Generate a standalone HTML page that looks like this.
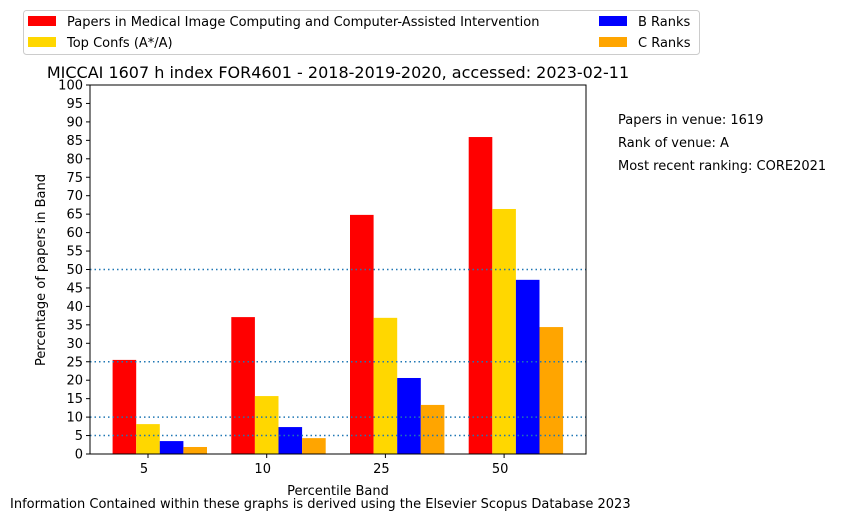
<!DOCTYPE html>
<html><head><meta charset="utf-8"><style>
body{margin:0;background:#fff;}
svg{display:block;font-family:"DejaVu Sans","Liberation Sans",sans-serif;}
</style></head><body>
<svg id="chart" width="850" height="520"></svg>
<script>
const categories=["5","10","25","50"];
const seriesNames=["Papers in Medical Image Computing and Computer-Assisted Intervention","Top Confs (A*/A)","B Ranks","C Ranks"];
const redValues=[25.5,37.1,64.8,85.9];
const yellowValues=[8.1,15.7,36.9,66.4];
const blueValues=[3.5,7.3,20.6,47.2];
const orangeValues=[1.9,4.3,13.3,34.4];
const refLines=[5,10,25,50];
const yTicks=[0,5,10,15,20,25,30,35,40,45,50,55,60,65,70,75,80,85,90,95,100];
const colors=["#ff0000","#ffd700","#0000ff","#ffa500"];
const series=[redValues,yellowValues,blueValues,orangeValues];
const NS="http://www.w3.org/2000/svg";
const svg=document.getElementById('chart');
const L=90,R=586,T=85,B=454;
function y(v){return B-(v/100)*(B-T);}
const groupW=118.7, firstC=148, barW=23.6;
function xc(i){return firstC+i*groupW;}
function mk(tag,attrs,parent){const e=document.createElementNS(NS,tag);for(const k in attrs)e.setAttribute(k,attrs[k]);(parent||svg).appendChild(e);return e;}
function txt(s,attrs){const e=mk('text',attrs);e.textContent=s;return e;}
series.forEach((vals,si)=>{vals.forEach((v,i)=>{
 const r=mk('rect',{x:xc(i)-1.5*barW+si*barW,y:y(v),width:barW,height:B-y(v),fill:colors[si]});
 
 
});});
refLines.forEach(v=>{const l=mk('line',{x1:L,x2:R,y1:y(v),y2:y(v),stroke:'#1f77b4','stroke-width':1.5,'stroke-dasharray':'1.5,3'});
 
 });
const f=mk('rect',{x:L,y:T,width:R-L,height:B-T,fill:'none',stroke:'#000','stroke-width':1});


yTicks.forEach(v=>{mk('line',{x1:L-4,x2:L,y1:y(v),y2:y(v),stroke:'#000'});
 const t=txt(String(v),{x:L-7,y:y(v)+4.5,'font-size':13,'text-anchor':'end'});
 
 });
categories.forEach((c,i)=>{mk('line',{x1:xc(i),x2:xc(i),y1:B,y2:B+4,stroke:'#000'});
 const t=txt(c,{x:xc(i)-4,y:B+19,'font-size':13,'text-anchor':'middle'});
 
 });
let t;
t=txt("Percentile Band",{x:338,y:495,'font-size':13,'text-anchor':'middle'});

t=txt("Percentage of papers in Band",{x:45,y:270,'font-size':13,'text-anchor':'middle',transform:'rotate(-90 45 270)'});

t=txt("MICCAI 1607 h index FOR4601 - 2018-2019-2020, accessed: 2023-02-11",{x:338,y:78,'font-size':16,'text-anchor':'middle'});

["Papers in venue: 1619","Rank of venue: A","Most recent ranking: CORE2021"].forEach((s,i)=>{
 const e=txt(s,{x:618,y:124+i*23,'font-size':13});
 });
t=txt("Information Contained within these graphs is derived using the Elsevier Scopus Database 2023",{x:10,y:508,'font-size':13});

const lg=mk('rect',{x:23.5,y:10.5,width:676,height:44,fill:'#fff',stroke:'#ccc',rx:3});

const pos=[[28,16],[28,37],[599,16],[599,37]];
series.forEach((_,si)=>{const [px,py]=pos[si];
 mk('rect',{x:px,y:py,width:28,height:10,fill:colors[si]});
 const e=txt(seriesNames[si],{x:px+39,y:py+10,'font-size':13});
 });
</script>
</body></html>
